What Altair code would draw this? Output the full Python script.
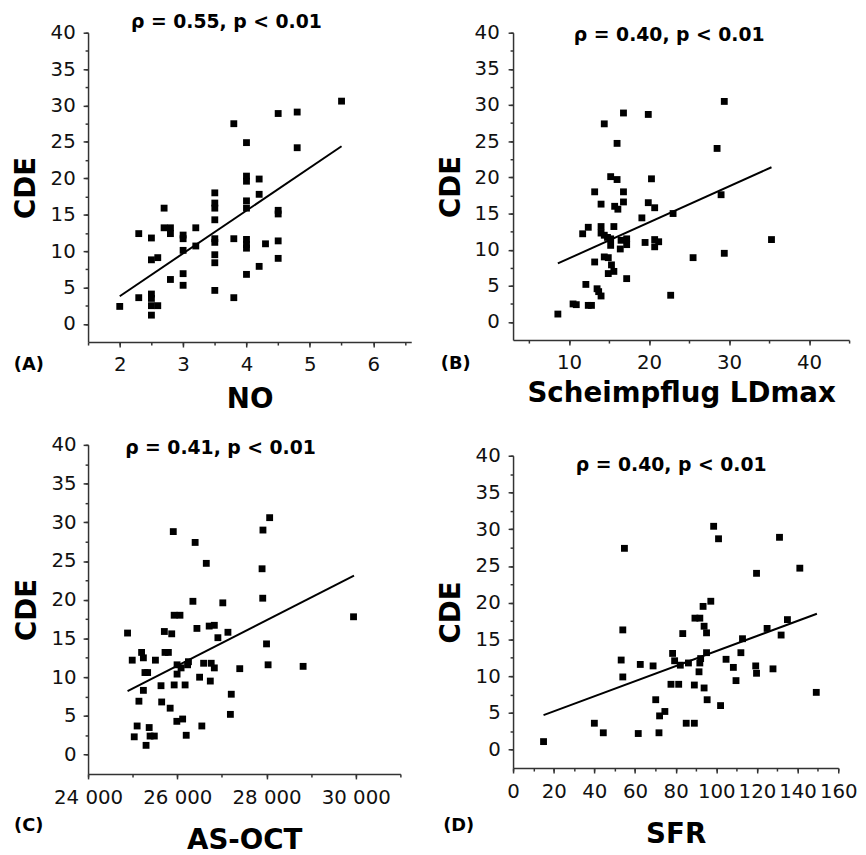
import altair as alt
import pandas as pd

FONT = "DejaVu Sans"

# ---------------- data ----------------
# (A) NO vs CDE
a_x = [2.0, 2.3, 2.3, 2.5, 2.5, 2.6, 2.5, 2.5, 2.5, 2.6, 2.5, 2.7, 2.7, 2.8, 2.8, 2.8,
       3.0, 3.0, 3.0, 3.0, 3.0, 3.2, 3.2, 3.5, 3.5, 3.5, 3.5, 3.5, 3.5, 3.5, 3.5, 3.5,
       3.8, 3.8, 3.8, 4.0, 4.0, 4.0, 4.0, 4.0, 4.0, 4.0, 4.0, 4.0, 4.2, 4.2, 4.2, 4.3,
       4.5, 4.5, 4.5, 4.5, 4.5, 4.8, 4.8, 5.5]
a_y = [2.4, 3.6, 12.4, 11.8, 8.8, 9.1, 4.1, 3.5, 2.5, 2.5, 1.2, 15.9, 13.2, 13.2, 12.4, 6.1,
       12.2, 11.7, 10.1, 6.9, 5.3, 13.2, 10.7, 18.0, 16.6, 15.9, 14.3, 11.7, 11.2, 9.5, 8.4, 4.6,
       27.5, 11.7, 3.6, 24.9, 20.3, 19.6, 16.9, 15.9, 11.6, 10.9, 10.4, 6.8, 19.9, 17.8, 7.9, 11.0,
       28.9, 15.6, 15.1, 11.4, 9.0, 29.1, 24.2, 30.6]
a_fit_x = [2.0, 5.5]
a_fit_y = [3.8, 24.4]

# (B) Scheimpflug LDmax vs CDE
b_x = [8.6, 10.5, 10.9, 12.4, 12.8, 12.1, 11.7, 12.4, 13.2, 13.2, 13.5, 13.7, 14.0, 14.0, 14.0,
       14.0, 14.4, 14.4, 14.8, 14.4, 14.9, 14.9, 15.2, 15.2, 15.2, 15.3, 15.6, 15.6, 15.7, 16.0,
       16.0, 16.1, 16.4, 16.5, 16.8, 16.8, 16.8, 17.2, 17.2, 17.2, 19.1, 19.5, 19.9, 19.9, 20.3,
       20.7, 20.7, 20.7, 21.2, 22.7, 23.0, 25.5, 28.5, 29.0, 29.4, 29.4, 35.3]
b_y = [1.1, 2.5, 2.4, 2.3, 2.3, 5.2, 12.2, 13.1, 18.0, 8.3, 4.6, 4.2, 3.6, 16.3, 13.2,
       12.3, 27.4, 12.0, 11.7, 9.0, 8.9, 6.7, 20.1, 11.5, 10.6, 7.9, 7.0, 13.2, 16.0, 24.7,
       19.7, 15.6, 10.1, 11.3, 28.9, 18.0, 16.6, 11.5, 10.7, 6.0, 14.4, 11.0, 28.7, 16.5, 19.8,
       15.8, 11.4, 10.4, 11.1, 3.7, 15.0, 8.9, 24.0, 17.6, 30.5, 9.5, 11.4]
b_fit_x = [8.6, 35.3]
b_fit_y = [8.1, 21.4]

# (C) AS-OCT vs CDE
c_x = [24885, 24990, 25200, 25240, 25275, 25335, 25240, 25140, 25100, 25035, 25300, 25370,
       25390, 25485, 25510, 25635, 25650, 25710, 25725, 25800, 25840, 25875, 25910, 25930,
       25930, 26060, 25995, 25995, 25990, 26085, 26120, 26175, 26200, 26230, 26250, 26350,
       26400, 26440, 26500, 26550, 26590, 26650, 26715, 26740, 26760, 26830, 26830, 26910,
       27020, 27135, 27190, 27210, 27400, 27900, 27920, 27915, 28000, 28035, 28070, 28820, 29950]
c_y = [15.7, 12.2, 13.2, 12.5, 10.6, 10.6, 8.3, 6.9, 3.7, 2.3, 1.2, 3.5,
       2.4, 2.4, 12.2, 8.9, 6.8, 15.9, 13.2, 13.2, 6.0, 15.6, 28.8, 9.0,
       18.0, 18.0, 11.6, 10.4, 4.3, 11.2, 4.6, 9.0, 2.5, 11.6, 12.0, 19.8,
       27.4, 16.3, 10.0, 3.7, 11.8, 24.7, 16.6, 9.5, 11.8, 16.7, 11.2, 15.1,
       19.6, 15.8, 5.2, 7.8, 11.1, 24.0, 29.0, 20.2, 14.3, 11.6, 30.6, 11.4, 17.8]
c_fit_x = [24885, 29960]
c_fit_y = [8.2, 23.1]

# (D) SFR vs CDE
d_x = [15.0, 40.0, 44.4, 53.2, 54.0, 54.0, 54.8, 61.6, 62.6, 68.9, 70.2, 71.8, 72.1, 74.7,
       77.7, 78.5, 79.5, 81.5, 82.3, 83.5, 85.2, 86.3, 89.2, 89.2, 89.5, 91.9, 91.5, 91.9,
       92.3, 93.5, 94.0, 94.0, 95.2, 95.2, 95.5, 97.3, 98.7, 101.1, 102.1, 104.8, 108.4, 109.7,
       112.1, 112.9, 119.4, 119.8, 119.8, 125.0, 127.9, 131.1, 131.9, 135.0, 141.1, 149.2]
d_y = [1.1, 3.6, 2.3, 12.2, 9.9, 16.3, 27.4, 2.2, 11.6, 11.4, 6.8, 2.3, 4.6, 5.2,
       8.9, 13.1, 12.1, 8.9, 11.5, 15.8, 3.6, 11.8, 3.6, 8.8, 17.9, 17.9, 10.6, 11.8,
       12.4, 19.5, 16.8, 8.4, 15.9, 13.2, 6.8, 20.2, 30.4, 28.7, 6.0, 12.3, 11.2, 9.4,
       13.2, 15.1, 11.4, 10.4, 24.0, 16.5, 11.0, 28.9, 15.6, 17.7, 24.7, 7.8]
d_fit_x = [15.0, 149.5]
d_fit_y = [4.7, 18.5]

rho_texts = ["\u03c1 = 0.55, p < 0.01", "\u03c1 = 0.40, p < 0.01",
             "\u03c1 = 0.41, p < 0.01", "\u03c1 = 0.40, p < 0.01"]
letters = ["(A)", "(B)", "(C)", "(D)"]
x_titles = ["NO", "Scheimpflug LDmax", "AS-OCT", "SFR"]
y_title = "CDE"
y_major = [0, 5, 10, 15, 20, 25, 30, 35, 40]
y_minor = [i * 2.5 for i in range(17)]
a_major = [2, 3, 4, 5, 6]
a_minor = [1.5 + 0.5 * i for i in range(11)]
b_major = [10, 20, 30, 40]
b_minor = [5 * i for i in range(1, 10)]
c_major = [24000, 26000, 28000, 30000]
c_minor = [24000 + 1000 * i for i in range(8)]
d_major = [0, 20, 40, 60, 80, 100, 120, 140, 160]
d_minor = [10 * i for i in range(17)]

LABEL_SIZE = 20


def panel(xs, ys, fx, fy, rho, letter, xtitle, xdom, xmajor, xminor, w, h, yrange,
          tpos, lpos, xlabpad, xtitlepad, ylabpad, ytitlepad, label_expr=None):
    pts = pd.DataFrame({"x": xs, "y": ys})
    fit = pd.DataFrame({"x": fx, "y": fy})
    xaxis_kw = dict(title=xtitle, values=xmajor, labelOverlap=False, labelFlush=False,
                    labelFont=FONT, labelFontSize=LABEL_SIZE,
                    labelPadding=xlabpad, titlePadding=xtitlepad, tickSize=5, orient="bottom")
    if label_expr:
        xaxis_kw["labelExpr"] = label_expr
    xscale = alt.Scale(domain=xdom, nice=False, zero=False)
    yscale = alt.Scale(domain=[-2.5, 40], nice=False, zero=False, range=yrange)
    xenc = alt.X("x:Q", scale=xscale, axis=alt.Axis(**xaxis_kw))
    yenc = alt.Y("y:Q", scale=yscale,
                 axis=alt.Axis(title=y_title, values=y_major, labelOverlap=False,
                               labelFont=FONT, labelFontSize=LABEL_SIZE,
                               labelPadding=ylabpad, titlePadding=ytitlepad,
                               tickSize=5, orient="left"))
    points = alt.Chart(pts).mark_square(size=48, color="black", opacity=1).encode(x=xenc, y=yenc)
    line = alt.Chart(fit).mark_line(color="black", strokeWidth=2).encode(
        x=alt.X("x:Q", axis=alt.Axis(values=xminor, labels=False, title="", domain=False,
                                     tickSize=3, orient="bottom")),
        y=alt.Y("y:Q", axis=alt.Axis(values=y_minor, labels=False, title="", domain=False,
                                     tickSize=3, orient="left")),
    )
    ttl = alt.Chart(pd.DataFrame({"t": [rho]})).mark_text(
        font=FONT, fontSize=19, fontWeight="bold", color="black", align="center", baseline="middle"
    ).encode(text="t:N", x=alt.value(tpos[0]), y=alt.value(tpos[1]))
    let = alt.Chart(pd.DataFrame({"t": [letter]})).mark_text(
        font=FONT, fontSize=18, fontWeight="bold", color="black", align="center", baseline="middle"
    ).encode(text="t:N", x=alt.value(lpos[0]), y=alt.value(lpos[1]))
    return alt.layer(points, line, ttl, let).resolve_axis(
        x="independent", y="independent"
    ).properties(width=w, height=h)


pA = panel(a_x, a_y, a_fit_x, a_fit_y, rho_texts[0], letters[0], x_titles[0], [1.5, 6.6],
           a_major, a_minor, 327, 313, [313, 0], (140, -11), (-60, 336), 8, 11, 8, 10)
pB = panel(b_x, b_y, b_fit_x, b_fit_y, rho_texts[1], letters[1], x_titles[1], [3, 45],
           b_major, b_minor, 340, 311, [311, 0], (158, 2), (-58, 335), 8, 7, 9, 9)
pC = panel(c_x, c_y, c_fit_x, c_fit_y, rho_texts[2], letters[2], x_titles[2], [24000, 31000],
           c_major, c_minor, 316, 333, [333, 0], (134, 3), (-60, 386), 9, 19, 7, 10,
           label_expr="replace(format(datum.value, ','), ',', ' ')")
pD = panel(d_x, d_y, d_fit_x, d_fit_y, rho_texts[3], letters[3], x_titles[3], [0, 160],
           d_major, d_minor, 329, 327, [327, 11], (160, 20), (-55, 386), 9, 19, 8, 10)

chart = alt.concat(pA, pB, pC, pD, columns=2, bounds="flush",
                   spacing={"row": 104, "column": 103}).properties(
    padding={"left": 4, "top": 0, "right": 0, "bottom": 0}
).configure_view(
    strokeOpacity=0
).configure_axis(
    grid=False,
    domainColor="#333333", domainWidth=1.5,
    tickColor="#333333", tickWidth=1.5,
    labelFont=FONT, labelFontSize=LABEL_SIZE, labelColor="#111111",
    titleFont=FONT, titleFontSize=28, titleFontWeight="bold", titleColor="black",
)

chart.save("out.html", embed_options={"renderer": "svg", "actions": False})
